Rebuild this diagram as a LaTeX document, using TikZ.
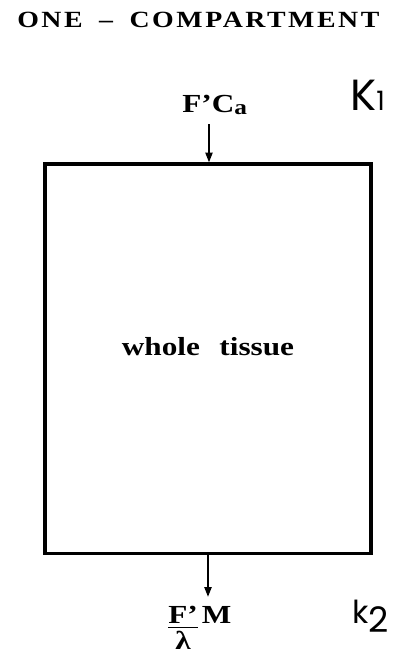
\documentclass[tikz,border=0pt]{standalone}
\usepackage{fontspec}
\usepackage{tikz}
\usetikzlibrary{arrows.meta,positioning}
\setmainfont{Liberation Serif}
\newfontfamily\wideserif[FakeStretch=1.2]{Liberation Serif}
\newfontfamily\widetitle[FakeStretch=1.2,LetterSpace=11]{Liberation Serif}
\newfontfamily\geosans{Poppins}

\begin{document}
\begin{tikzpicture}[
  x=0.025cm,y=-0.025cm,
  txt/.style={inner sep=0pt,anchor=base west,font=\wideserif\bfseries\fontsize{18.5}{22}\selectfont},
  rate/.style={inner sep=0pt,anchor=base west,font=\geosans},
  comp/.style={draw,line width=2.2pt,minimum width=8.15cm,minimum height=9.725cm},
  flow/.style={-{Triangle[length=7pt,width=5pt]},line width=1.4pt}
]
  \useasboundingbox (0,0) rectangle (401,659);
  \node[inner sep=0pt,anchor=base west,font=\widetitle\bfseries\fontsize{16.5}{20}\selectfont]
    (title) at (17,27) {ONE\hspace{0.3em} – \hspace{0.3em}COMPARTMENT};
  \node[comp] (tissue) at (208,358.5) {};
  \node[txt,anchor=base] (label) at (208,355) {whole\hspace{0.75em}tissue};
  \node[txt] (input) at (182,112)
    {F’C{\fontsize{15}{15}\selectfont\raisebox{-2pt}{a}}};
  \node[txt] (output) at (168,623)
    {\setlength\arrayrulewidth{1pt}\begin{tabular}[t]{@{}c@{}}F’\\[-4pt]\hline λ\end{tabular}\hspace{3pt}M};
  \node[rate] (kin) at (350,110)
    {\fontsize{31}{31}\selectfont K\fontsize{19}{19}\selectfont 1};
  \node[rate] (kout) at (352,623)
    {\fontsize{22.5}{22.5}\selectfont k\fontsize{25}{25}\selectfont\raisebox{-6.4pt}{2}};
  \coordinate (inTop) at (209,124);
  \coordinate (outTip) at (208,597);
  \draw[flow] (inTop) -- (inTop |- tissue.north);
  \draw[flow] (outTip |- tissue.south) -- (outTip);
\end{tikzpicture}
\end{document}
